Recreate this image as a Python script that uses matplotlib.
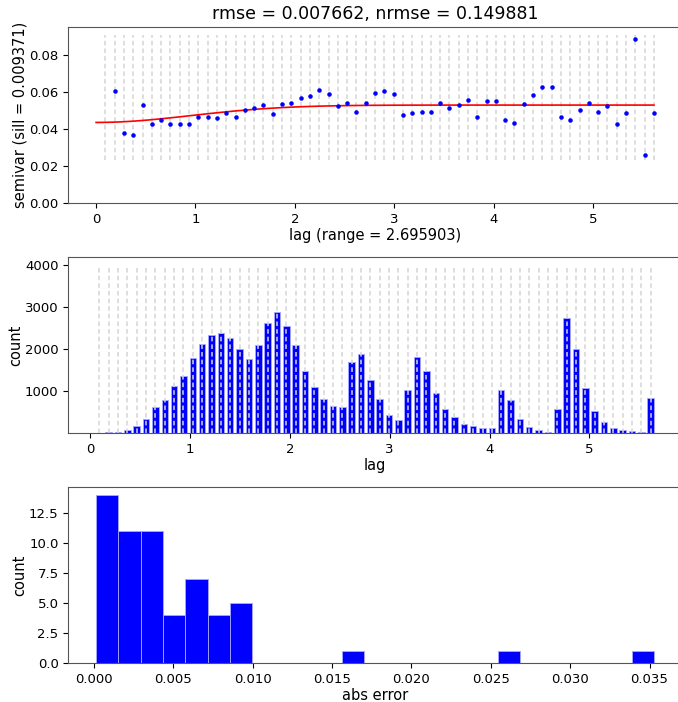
import numpy as np
import matplotlib
matplotlib.use("Agg")
import matplotlib.pyplot as plt

# lag classes (upper bin edges)
maxlag = 5.614
n_lags = 60
bins = np.linspace(maxlag / n_lags, maxlag, n_lags)

# experimental semivariance (first lag class is empty)
semivar = [np.nan,
           0.0606, 0.0380, 0.0367, 0.0528, 0.0429, 0.0447, 0.0429, 0.0429, 0.0429, 0.0467,
           0.0465, 0.0458, 0.0488, 0.0467, 0.0504, 0.0512, 0.0528, 0.0481, 0.0537, 0.0541,
           0.0569, 0.0580, 0.0613, 0.0591, 0.0524, 0.0541, 0.0492, 0.0539, 0.0597, 0.0604,
           0.0591, 0.0479, 0.0490, 0.0495, 0.0492, 0.0541, 0.0513, 0.0532, 0.0560, 0.0468,
           0.0553, 0.0553, 0.0447, 0.0436, 0.0537, 0.0586, 0.0629, 0.0629, 0.0465, 0.0452,
           0.0504, 0.0541, 0.0492, 0.0524, 0.0429, 0.0488, 0.0885, 0.0263, 0.0488]

# point pairs per lag class
counts = [0, 20, 20, 77, 180, 345, 613, 795, 1111, 1356,
          1783, 2123, 2336, 2367, 2257, 1996, 1767, 2099, 2612, 2873,
          2541, 2099, 1483, 1095, 811, 638, 614, 1688, 1886, 1261,
          803, 440, 306, 1017, 1799, 1475, 945, 574, 385, 227,
          180, 124, 116, 1033, 796, 329, 147, 77, 37, 574,
          2746, 2004, 1063, 519, 258, 116, 77, 45, 21, 843]

# fitted gaussian model
model_range = 2.695903
model_sill = 0.009371
model_nugget = 0.04365
rmse = 0.007662
nrmse = 0.149881

# histogram of absolute model errors
err_min = 0.00013
err_max = 0.03528
err_counts = [14, 11, 11, 4, 7, 4, 5, 0, 0, 0, 0, 1, 0, 0, 0, 0, 0, 0, 1, 0, 0, 0, 0, 0, 1]


def gaussian(h, r, c0, b):
    a = r / 2.
    return b + c0 * (1. - np.exp(-(h ** 2 / a ** 2)))


plt.rcParams['font.family'] = 'DejaVu Sans'
plt.rcParams['xtick.labelsize'] = 9.5
plt.rcParams['ytick.labelsize'] = 9.5
plt.rcParams['axes.labelpad'] = 1.5

fig = plt.figure(figsize=(6.78, 7.02), dpi=100)
left, width = 0.1007, 0.905
ax1 = fig.add_axes([left, 0.7104, width, 0.2507])
ax2 = fig.add_axes([left, 0.3828, width, 0.2516])
ax3 = fig.add_axes([left, 0.0556, width, 0.2511])

dash = (0, (3.0, 2.0))
vcol = '#d4d4d4'

# --- variogram ---
ax1.vlines(bins, 0.0235, 0.0908, colors=vcol, linestyles=[dash], linewidth=1.1)
h = np.linspace(0, maxlag, 100)
ax1.plot(h, gaussian(h, model_range, model_sill, model_nugget), 'r-', linewidth=1.2)
ax1.plot(bins, semivar, '.b', markersize=4.5)
ax1.set_xlim(-0.28, 5.895)
ax1.set_ylim(0, 0.095)
ax1.set_yticks([0, 0.02, 0.04, 0.06, 0.08])
ax1.set_xlabel('lag (range = %f)' % model_range, fontsize=10.5)
ax1.set_ylabel('semivar (sill = %f)' % model_sill, fontsize=10.5)
ax1.set_title('rmse = %f, nrmse = %f' % (rmse, nrmse), fontsize=12.5)

# --- pair counts ---
w = bins[0] * 0.7
ax2.bar(bins, counts, width=w, color='blue', edgecolor='#a8a8ff', linewidth=0.6, zorder=1)
ax2.vlines(bins, 0, 4000, colors=vcol, linestyles=[dash], linewidth=1.1, zorder=2)
ax2.set_xlim(-0.218, 5.926)
ax2.set_ylim(0, 4190)
ax2.set_yticks([1000, 2000, 3000, 4000])
ax2.set_xlabel('lag', fontsize=10.5)
ax2.set_ylabel('count', fontsize=10.5)

# --- abs error histogram ---
edges = np.linspace(err_min, err_max, len(err_counts) + 1)
ax3.hist(edges[:-1], bins=edges, weights=err_counts, color='blue', edgecolor='#a8a8ff', linewidth=0.6)
ax3.set_xlabel('abs error', fontsize=10.5)
ax3.set_ylabel('count', fontsize=10.5)

for ax in (ax1, ax2, ax3):
    for s in ax.spines.values():
        s.set_color('#555555')

fig.savefig('out.png', dpi=100)
